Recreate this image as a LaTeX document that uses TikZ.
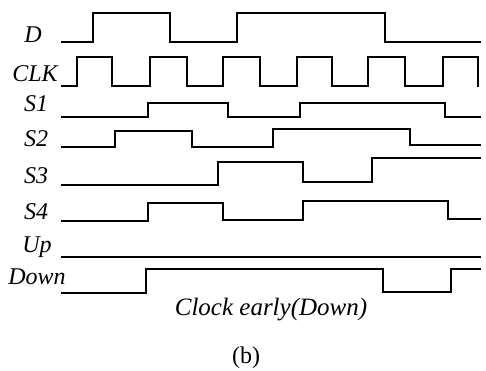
\documentclass[tikz,border=0pt]{standalone}
\usepackage{fontspec}
\setmainfont{Liberation Serif}
\begin{document}
\begin{tikzpicture}[x=1pt,y=-1pt,
  sig/.style={line width=2.7pt,line join=miter,line cap=rect},
  lab/.style={font=\fontsize{24}{27}\selectfont\itshape,inner sep=0pt}]
\useasboundingbox (0,0) rectangle (486,371);
% labels
\node[lab] (lD) at (33,35) {D};
\node[lab] (lCLK) at (35,74) {CLK};
\node[lab] (lS1) at (36,104) {S1};
\node[lab] (lS2) at (36,139) {S2};
\node[lab] (lS3) at (36,176) {S3};
\node[lab] (lS4) at (36,212) {S4};
\node[lab] (lUp) at (37,247) {Up};
\node[lab] (lDown) at (37,277) {Down};
% signals
\draw[sig] (62,42) -- (93,42) -- (93,13) -- (170,13) -- (170,42) -- (237,42) -- (237,13) -- (385,13) -- (385,42) -- (480,42);
\draw[sig] (62,86) -- (77,86) -- (77,57) -- (112,57) -- (112,86) -- (150,86) -- (150,57) -- (187,57) -- (187,86) -- (223,86) -- (223,57) -- (260,57) -- (260,86) -- (297,86) -- (297,57) -- (332,57) -- (332,86) -- (368,86) -- (368,57) -- (405,57) -- (405,86) -- (443,86) -- (443,57) -- (478,57) -- (478,86);
\draw[sig] (62,117) -- (148,117) -- (148,103) -- (228,103) -- (228,117) -- (300,117) -- (300,103) -- (445,103) -- (445,117) -- (480,117);
\draw[sig] (62,147) -- (115,147) -- (115,131) -- (192,131) -- (192,147) -- (273,147) -- (273,129) -- (410,129) -- (410,145) -- (480,145);
\draw[sig] (62,185) -- (218,185) -- (218,162) -- (303,162) -- (303,182) -- (372,182) -- (372,158) -- (480,158);
\draw[sig] (62,221) -- (148,221) -- (148,203) -- (223,203) -- (223,220) -- (303,220) -- (303,201) -- (448,201) -- (448,219) -- (480,219);
\draw[sig] (62,257) -- (480,257);
\draw[sig] (62,293) -- (146,293) -- (146,269) -- (383,269) -- (383,292) -- (451,292) -- (451,269) -- (480,269);
% caption
\node[inner sep=0pt,font=\fontsize{25}{28}\selectfont\itshape] (cap) at (271,310) {Clock early(Down)};
\node[inner sep=0pt,font=\fontsize{24}{27}\selectfont] (sub) at (246,358) {(b)};
\end{tikzpicture}
\end{document}
